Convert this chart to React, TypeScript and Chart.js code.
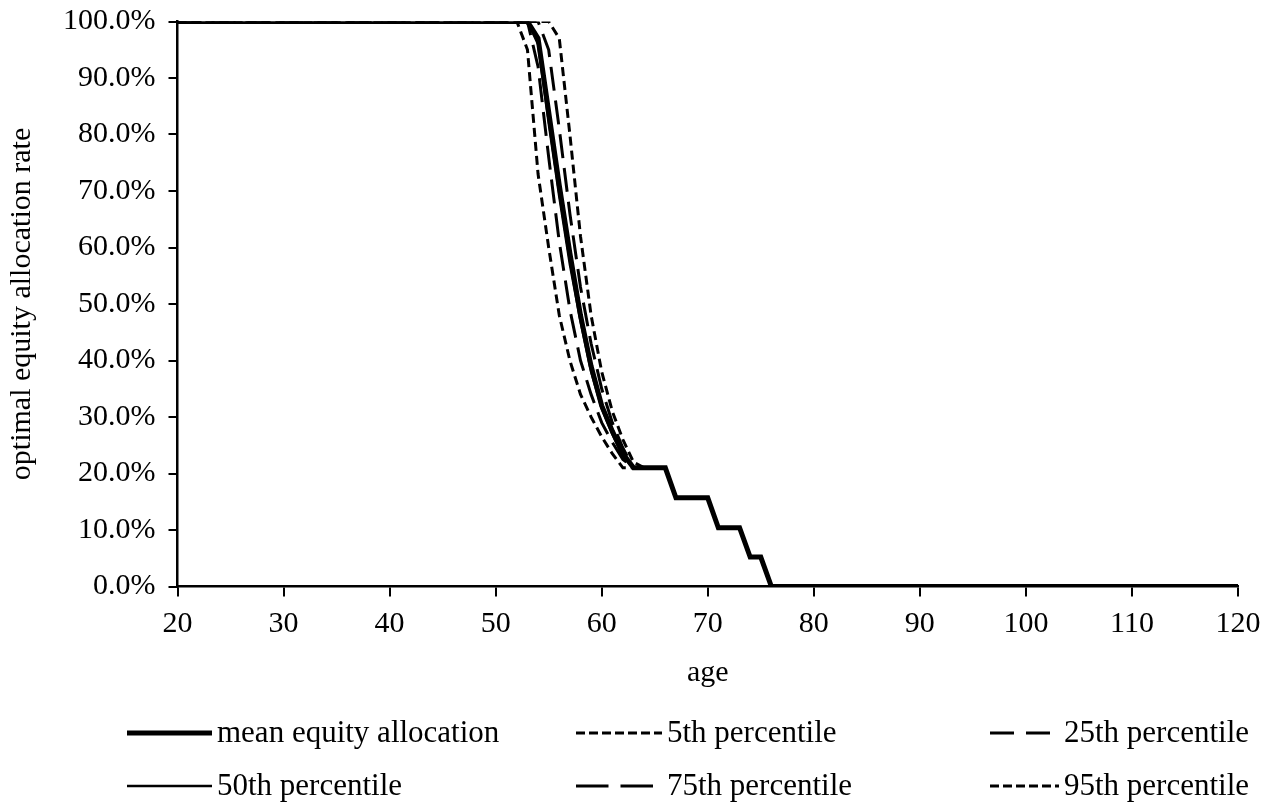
import React, { useEffect, useRef } from "react";
import { Chart, registerables } from "chart.js";

Chart.register(...registerables);

// Age grid (years) shared by every series
const ages = [20, 52, 53, 54, 55, 56, 57, 58, 59, 60, 61, 62, 63, 64, 65, 66, 67, 68, 69, 70, 71, 72, 73, 74, 75, 76, 120];

// Optimal equity allocation rate (fraction) per age
const meanAllocation = [1, 1, 1, 0.97, 0.84, 0.71, 0.59, 0.48, 0.39, 0.32, 0.275, 0.235, 0.21, 0.21, 0.21, 0.21, 0.157, 0.157, 0.157, 0.157, 0.104, 0.104, 0.104, 0.052, 0.052, 0, 0];
const pct5 = [1, 1, 0.95, 0.73, 0.6, 0.48, 0.4, 0.34, 0.3, 0.265, 0.235, 0.21, 0.21, 0.21, 0.21, 0.21, 0.157, 0.157, 0.157, 0.157, 0.104, 0.104, 0.104, 0.052, 0.052, 0, 0];
const pct25 = [1, 1, 1, 0.92, 0.76, 0.61, 0.49, 0.4, 0.34, 0.29, 0.255, 0.225, 0.21, 0.21, 0.21, 0.21, 0.157, 0.157, 0.157, 0.157, 0.104, 0.104, 0.104, 0.052, 0.052, 0, 0];
const pct50 = [1, 1, 1, 0.96, 0.82, 0.69, 0.57, 0.47, 0.38, 0.315, 0.27, 0.23, 0.21, 0.21, 0.21, 0.21, 0.157, 0.157, 0.157, 0.157, 0.104, 0.104, 0.104, 0.052, 0.052, 0, 0];
const pct75 = [1, 1, 1, 1, 0.95, 0.81, 0.66, 0.53, 0.43, 0.35, 0.29, 0.245, 0.21, 0.21, 0.21, 0.21, 0.157, 0.157, 0.157, 0.157, 0.104, 0.104, 0.104, 0.052, 0.052, 0, 0];
const pct95 = [1, 1, 1, 1, 1, 0.97, 0.8, 0.62, 0.48, 0.38, 0.31, 0.26, 0.22, 0.21, 0.21, 0.21, 0.157, 0.157, 0.157, 0.157, 0.104, 0.104, 0.104, 0.052, 0.052, 0, 0];

const seriesLabels = [
  "mean equity allocation",
  "5th percentile",
  "25th percentile",
  "50th percentile",
  "75th percentile",
  "95th percentile",
];

const xAxisTitle = "age";
const yAxisTitle = "optimal equity allocation rate";

const FONT = '"Liberation Serif", "Times New Roman", serif';

const SHORT_DASH = [9, 5];
const LONG_DASH = [24, 10];

type Kind = "solid" | "short" | "long";
const styles: { width: number; dash: number[]; kind: Kind }[] = [
  { width: 5, dash: [], kind: "solid" },
  { width: 3, dash: SHORT_DASH, kind: "short" },
  { width: 3, dash: LONG_DASH, kind: "long" },
  { width: 2.5, dash: [], kind: "solid" },
  { width: 3, dash: LONG_DASH, kind: "long" },
  { width: 3, dash: SHORT_DASH, kind: "short" },
];

const legendPlugin = {
  id: "gridLegend",
  afterDraw(chart: any) {
    const ctx = chart.ctx as CanvasRenderingContext2D;
    const symbolX = [127, 576, 990];
    const textX = [217, 667, 1064];
    const rows = [733, 786];
    chart.data.datasets.forEach((ds: any, i: number) => {
      const st = styles[i];
      const c = i % 3;
      const x0 = symbolX[c];
      const y = rows[Math.floor(i / 3)];
      ctx.save();
      ctx.strokeStyle = "#000";
      ctx.lineWidth = st.width;
      let len = textX[c] - x0 - 5;
      if (st.kind === "short") ctx.setLineDash([9, 4]);
      else if (st.kind === "long") {
        len = textX[c] - x0 - 14;
        const gap = 12;
        ctx.setLineDash([(len - gap) / 2, gap]);
      } else ctx.setLineDash([]);
      ctx.beginPath();
      ctx.moveTo(x0, y);
      ctx.lineTo(x0 + len, y);
      ctx.stroke();
      ctx.setLineDash([]);
      ctx.fillStyle = "#000";
      ctx.font = `31px ${FONT}`;
      ctx.textAlign = "left";
      ctx.textBaseline = "alphabetic";
      ctx.fillText(ds.label, textX[c], y + 9);
      ctx.restore();
    });
  },
};

export default function App() {
  const canvasRef = useRef<HTMLCanvasElement | null>(null);

  useEffect(() => {
    const canvas = canvasRef.current;
    if (!canvas) return;
    const seriesValues = [meanAllocation, pct5, pct25, pct50, pct75, pct95];
    const datasets = seriesValues.map((vals, i) => ({
      label: seriesLabels[i],
      data: ages.map((a, j) => ({ x: a, y: vals[j] })),
      borderColor: "#000",
      backgroundColor: "#000",
      borderWidth: styles[i].width,
      borderDash: styles[i].dash,
      pointRadius: 0,
      tension: 0,
      fill: false,
    }));

    const chart = new Chart(canvas, {
      type: "line",
      data: { datasets },
      options: {
        animation: false,
        responsive: false,
        maintainAspectRatio: false,
        layout: { padding: { top: 21.5, right: 26, left: 0, bottom: 0 } },
        plugins: {
          legend: { display: false },
          tooltip: { enabled: false },
        },
        scales: {
          x: {
            type: "linear",
            min: 20,
            max: 120,
            afterFit: (scale: any) => {
              scale.height = 218.5;
              scale.paddingLeft = 0;
              scale.paddingRight = 0;
            },
            ticks: {
              stepSize: 10,
              color: "#000",
              padding: 10,
              maxRotation: 0,
              font: { family: FONT, size: 30 },
            },
            grid: {
              drawOnChartArea: false,
              drawTicks: true,
              tickLength: 10,
              color: "#000",
              lineWidth: 2,
            },
            border: { display: true, color: "#000", width: 2.5 },
            title: {
              display: true,
              text: xAxisTitle,
              color: "#000",
              font: { family: FONT, size: 30 },
              padding: { top: 0, bottom: 114 },
            },
          },
          y: {
            type: "linear",
            min: 0,
            max: 1,
            afterFit: (scale: any) => {
              scale.width = 177.5;
              scale.paddingTop = 0;
              scale.paddingBottom = 0;
            },
            ticks: {
              stepSize: 0.1,
              color: "#000",
              padding: 13,
              font: { family: FONT, size: 30 },
              callback: (v: any) => (Number(v) * 100).toFixed(1) + "%",
            },
            grid: {
              drawOnChartArea: false,
              drawTicks: true,
              tickLength: 9,
              color: "#000",
              lineWidth: 2,
            },
            border: { display: true, color: "#000", width: 2.5 },
            title: {
              display: true,
              text: yAxisTitle,
              color: "#000",
              font: { family: FONT, size: 30 },
              padding: { top: 4, bottom: 0 },
            },
          },
        },
      },
      plugins: [legendPlugin],
    } as any);

    return () => chart.destroy();
  }, []);

  return (
    <div style={{ position: "fixed", left: 0, top: 0, width: 1264, height: 805, background: "#fff" }}>
      <canvas ref={canvasRef} width={1264} height={805} style={{ width: 1264, height: 805, display: "block" }} />
    </div>
  );
}
